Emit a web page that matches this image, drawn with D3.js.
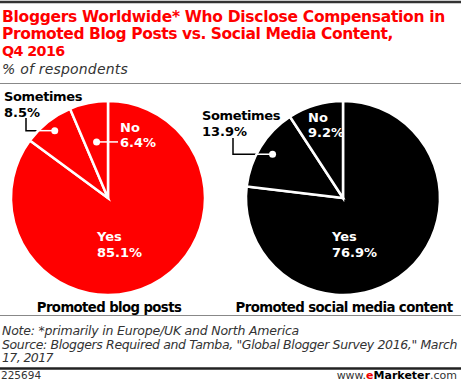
<!DOCTYPE html>
<meta charset="utf-8">
<script src="https://d3js.org/d3.v7.min.js"></script>
<style>
  body { margin: 0; background: #fff; }
  text { font-family: "DejaVu Sans", sans-serif; }
</style>
<div id="my_dataviz"></div>
<script>

// data
var categories = ["Yes", "Sometimes", "No"]
var blogValues = [85.1, 8.5, 6.4]
var socialValues = [76.9, 13.9, 9.2]
var pieTitles = ["Promoted blog posts", "Promoted social media content"]
var pieColors = ["#ff0000", "#000000"]

var width = 461, height = 386
var radius = 97

var svg = d3.select("#my_dataviz")
  .append("svg")
    .attr("width", width)
    .attr("height", height)

// tighten a text to a measured width (letter spacing, then font size if still too wide)
function fit(sel, w) {
  var n = sel.text().length
  var len = sel.node().getComputedTextLength()
  var ls = Math.max(-0.6, (w - len) / n)
  sel.style("letter-spacing", ls + "px")
  len = sel.node().getComputedTextLength()
  if (len > w + 1) {
    var fs = parseFloat(sel.style("font-size"))
    sel.style("font-size", (fs * w / len).toFixed(2) + "px")
  }
  return sel
}

// rules
svg.append("line").attr("x1", 0).attr("x2", width).attr("y1", 2).attr("y2", 2).attr("stroke", "#333").attr("stroke-width", 2.5)
svg.append("line").attr("x1", 0).attr("x2", width).attr("y1", 83.5).attr("y2", 83.5).attr("stroke", "#888").attr("stroke-width", 1)
svg.append("line").attr("x1", 0).attr("x2", width).attr("y1", 315.5).attr("y2", 315.5).attr("stroke", "#888").attr("stroke-width", 1)
svg.append("line").attr("x1", 0).attr("x2", width).attr("y1", 368.5).attr("y2", 368.5).attr("stroke", "#222").attr("stroke-width", 2.5)

// title
var titleLines = ["Bloggers Worldwide* Who Disclose Compensation in", "Promoted Blog Posts vs. Social Media Content,", "Q4 2016"]
var titleWidths = [443, 391, 63]
titleLines.forEach(function(t, i) {
  var s = svg.append("text").attr("x", 2).attr("y", 22 + i * 17).text(t)
    .style("font-size", "15.5px").style("font-weight", 700).style("fill", "#ff0000")
  fit(s, titleWidths[i])
})
fit(svg.append("text").attr("x", 2).attr("y", 74).text("% of respondents")
  .style("font-size", "14px").style("font-style", "italic").style("fill", "#333"), 126)

// pies
var centers = [108, 343]
var cy = 198
var pie = d3.pie().sort(null).value(function(d) { return d })
var arc = d3.arc().innerRadius(0).outerRadius(radius)

// label layout, relative to each pie center
var layout = [
  { some: [-104, -97], leadTop: [-82, -80], someR: 0.885, no: [12, -66], noDot: true, noR: 0.59 },
  { some: [-141, -78], leadTop: [-110, -60], someR: 0.855, no: [-35, -76], noDot: false, noR: 0.6 }
]

;[blogValues, socialValues].forEach(function(vals, p) {
  var cx = centers[p], L = layout[p]
  var g = svg.append("g").attr("transform", "translate(" + cx + "," + cy + ")")
  var arcs = pie(vals)

  // leader for Sometimes (black part below the pie)
  var sArc = arcs[1]
  var sMid = (sArc.startAngle + sArc.endAngle) / 2
  var dot = [Math.sin(sMid) * radius * L.someR, -Math.cos(sMid) * radius * L.someR]
  g.append("polyline")
    .attr("points", [L.leadTop, [L.leadTop[0], dot[1]], dot].map(function(d) { return d.join(",") }).join(" "))
    .attr("fill", "none").attr("stroke", "#000").attr("stroke-width", 1.5)

  g.selectAll("path")
    .data(arcs)
    .enter()
    .append("path")
      .attr("d", arc)
      .attr("fill", pieColors[p])
      .attr("stroke", "white")
      .style("stroke-width", "2.5px")

  // white part of the leader inside the pie
  var edgeX = -Math.sqrt(radius * radius - dot[1] * dot[1])
  g.append("line").attr("x1", edgeX).attr("x2", dot[0]).attr("y1", dot[1]).attr("y2", dot[1])
    .attr("stroke", "#fff").attr("stroke-width", 1.5)
  g.append("circle").attr("cx", dot[0]).attr("cy", dot[1]).attr("r", 3.5).attr("fill", "#fff")

  // Sometimes label
  fit(g.append("text").attr("x", L.some[0]).attr("y", L.some[1]).text(categories[1])
    .style("font-size", "13px").style("font-weight", 700).style("fill", "#000"), 78)
  g.append("text").attr("x", L.some[0]).attr("y", L.some[1] + 15.5).text(vals[1] + "%")
    .style("font-size", "13px").style("font-weight", 700).style("fill", "#000")

  // No label
  if (L.noDot) {
    var nArc = arcs[2]
    var nMid = (nArc.startAngle + nArc.endAngle) / 2
    var nd = [Math.sin(nMid) * radius * L.noR, -Math.cos(nMid) * radius * L.noR]
    g.append("line").attr("x1", nd[0]).attr("x2", L.no[0] - 2).attr("y1", nd[1]).attr("y2", nd[1])
      .attr("stroke", "#fff").attr("stroke-width", 1.5)
    g.append("circle").attr("cx", nd[0]).attr("cy", nd[1]).attr("r", 3.5).attr("fill", "#fff")
  }
  g.append("text").attr("x", L.no[0]).attr("y", L.no[1]).text(categories[2])
    .style("font-size", "13px").style("font-weight", 700).style("fill", "#fff")
  g.append("text").attr("x", L.no[0]).attr("y", L.no[1] + 15).text(vals[2] + "%")
    .style("font-size", "13px").style("font-weight", 700).style("fill", "#fff")

  // Yes label
  g.append("text").attr("x", -11).attr("y", 43).text(categories[0])
    .style("font-size", "13px").style("font-weight", 700).style("fill", "#fff")
  g.append("text").attr("x", -11).attr("y", 59).text(vals[0] + "%")
    .style("font-size", "13px").style("font-weight", 700).style("fill", "#fff")

  // pie title
  var t = svg.append("text").attr("x", cx + 1).attr("y", 312).attr("text-anchor", "middle").text(pieTitles[p])
    .style("font-size", "14px").style("font-weight", 700).style("fill", "#000")
  fit(t, p == 0 ? 145 : 218)
})

// notes
var notes = ["Note: *primarily in Europe/UK and North America",
  "Source: Bloggers Required and Tamba, \"Global Blogger Survey 2016,\" March",
  "17, 2017"]
var noteWidths = [297, 455, 50]
notes.forEach(function(t, i) {
  fit(svg.append("text").attr("x", 2).attr("y", 335 + i * 13.5).text(t)
    .style("font-size", "12.5px").style("font-style", "italic").style("fill", "#333"), noteWidths[i])
})

// footer
svg.append("text").attr("x", 1).attr("y", 379).text("225694")
  .style("font-size", "10.5px").style("fill", "#333")
var brand = svg.append("text").attr("x", 457).attr("y", 379).attr("text-anchor", "end")
  .style("font-size", "11px").style("fill", "#333")
brand.append("tspan").text("www.")
brand.append("tspan").text("e").style("fill", "#e00").style("font-weight", 700)
brand.append("tspan").text("Marketer").style("fill", "#000").style("font-weight", 700)
brand.append("tspan").text(".com")

</script>
